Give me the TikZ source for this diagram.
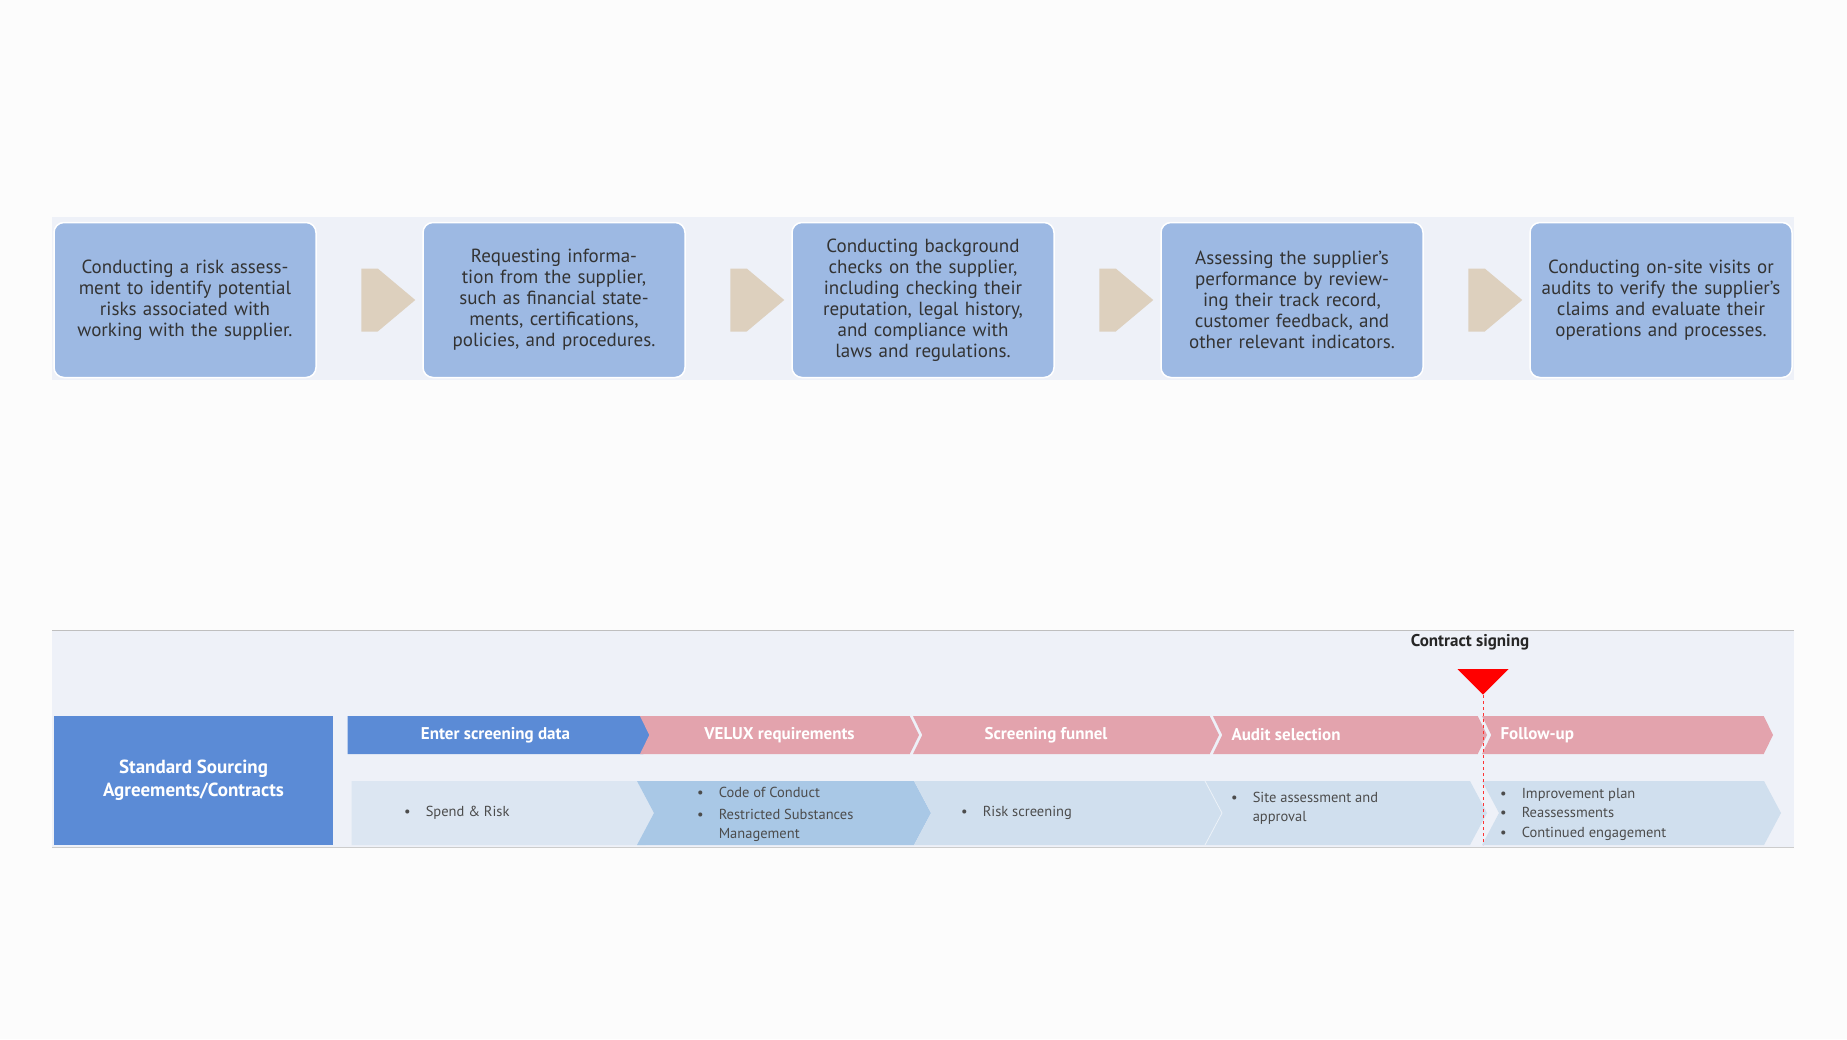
\documentclass[tikz,border=0pt]{standalone}
\usepackage{fontspec}
\setmainfont{PT Sans}
\usetikzlibrary{shapes.symbols,shapes.geometric,shapes.arrows,calc}
\definecolor{boxblue}{HTML}{9DB9E3}
\definecolor{tanc}{HTML}{DDD0BE}
\definecolor{bandbg}{HTML}{EEF1F8}
\definecolor{deepblue}{HTML}{5B8BD6}
\definecolor{rosy}{HTML}{E3A3AD}
\definecolor{palebl}{HTML}{DCE6F2}
\definecolor{midbl}{HTML}{A9C8E6}
\definecolor{softbl}{HTML}{D0DFEE}
\tikzset{
  stepbox/.style={draw=white,line width=1.5pt,fill=boxblue,rounded corners=10pt,
    minimum width=262pt,minimum height=155pt,text width=240pt,align=center,
    font=\fontsize{19}{21}\selectfont,text=black!80},
  gonext/.style={single arrow,fill=tanc,minimum height=54pt,minimum width=63pt,
    single arrow head extend=0pt,single arrow tip angle=80,inner sep=0pt},
  phase/.style={signal,signal to=east,signal from=west,signal pointer angle=128,
    minimum height=38pt,inner sep=0pt,text=white,
    font=\fontsize{17}{20}\selectfont\bfseries},
  stage/.style={signal,signal to=east,signal from=west,signal pointer angle=124,
    minimum height=64pt,inner sep=0pt},
  item/.style={anchor=west,font=\fontsize{14.5}{19}\selectfont,text=black!70,
    align=left,inner sep=0pt}
}
\begin{document}
\begin{tikzpicture}[x=1pt,y=-1pt]
  \useasboundingbox[fill=white!98!gray] (0,0) rectangle (1847,1039);

  % top band of steps
  \fill[bandbg] (52,217) rectangle (1794,380);
  \node[stepbox] (S1) at (185,300) {Conducting a risk assessment to identify potential risks associated with working with the supplier.};
  \node[stepbox] (S2) at (554,300) {Requesting information from the supplier, such as financial statements, certifications, policies, and procedures.};
  \node[stepbox] (S3) at (923,300) {Conducting background checks on the supplier, including checking their reputation, legal history, and compliance with laws and regulations.};
  \node[stepbox] (S4) at (1292,300) {Assessing the supplier's performance by reviewing their track record, customer feedback, and other relevant indicators.};
  \node[stepbox] (S5) at (1661,300) {Conducting on-site visits or audits to verify the supplier's claims and evaluate their operations and processes.};
  \foreach \a/\b in {S1/S2,S2/S3,S3/S4,S4/S5}
    \node[gonext] at ($(\a.east)!0.5!(\b.west)$) {};

  % bottom band
  \fill[bandbg] (52,630) rectangle (1794,847);
  \draw[gray!50,line width=1pt] (52,630) -- (1794,630);
  \draw[gray!40,line width=1pt] (52,847) -- (1794,847);
  \node[fill=deepblue,minimum width=279pt,minimum height=129pt,text=white,align=center,
    font=\fontsize{19}{23}\selectfont\bfseries] (SSA) at (193.5,780.5)
    {Standard Sourcing\\Agreements/Contracts};

  % phase headers
  \node[phase,fill=deepblue,signal from=nowhere,minimum width=305pt] (P1) at (495.5,735) {Enter screening data};
  \node[phase,fill=rosy,minimum width=279pt] (P2) at (779.5,735) {VELUX requirements};
  \node[phase,fill=rosy,minimum width=306pt] (P3) at (1066,735) {\hspace*{-40pt}Screening funnel};
  \node[phase,fill=rosy,minimum width=274pt] (P4) at (1350,735) {};
  \node[phase,fill=rosy,minimum width=291pt] (P5) at (1627.5,735) {};
  \node[anchor=west,text=white,font=\fontsize{17}{20}\selectfont\bfseries] at (1228,735) {Audit selection};
  \node[anchor=west,text=white,font=\fontsize{17}{20}\selectfont\bfseries] at (1497,735) {Follow-up};

  % stages
  \node[stage,fill=palebl,signal from=nowhere,minimum width=311pt] (T1) at (498.5,813) {};
  \node[stage,fill=midbl,minimum width=294pt] (T2) at (784,813) {};
  \node[stage,fill=softbl,minimum width=308pt] (T3) at (1068,813) {};
  \node[stage,fill=softbl,minimum width=282pt] (T4) at (1346,813) {};
  \node[stage,fill=softbl,minimum width=299pt] (T5) at (1631.5,813) {};
  \draw[white!60!softbl,line width=0.8pt] (1205,781) -- (1222,813) -- (1205,845);

  \node[item] at (404,813) {•\hspace{15pt}Spend \& Risk};
  \node[item] at (697,792) {•\hspace{15pt}Code of Conduct};
  \node[item,anchor=north west] at (697,809) {•\hspace{15pt}\parbox[t]{170pt}{Restricted Substances\\Management}};
  \node[item] at (961,813) {•\hspace{15pt}Risk screening};
  \node[item,anchor=north west] at (1231,792) {•\hspace{15pt}\parbox[t]{170pt}{Site assessment and\\approval}};
  \node[item,anchor=north west,font=\fontsize{14.5}{19.5}\selectfont] at (1500,788)
    {•\hspace{15pt}Improvement plan\\•\hspace{15pt}Reassessments\\•\hspace{15pt}Continued engagement};

  % contract signing marker
  \node[font=\fontsize{17}{20}\selectfont\bfseries,text=black!85] (CS) at (1470,642) {Contract signing};
  \node[isosceles triangle,shape border rotate=-90,isosceles triangle apex angle=90,
    fill=red,inner sep=0pt,minimum width=51pt,minimum height=25pt,anchor=apex] (TR) at (1483,695) {};
  \coordinate (CE) at (1483,845);
  \draw[red!80,dashed,line width=1pt] (TR.apex) -- (CE);
\end{tikzpicture}
\end{document}
